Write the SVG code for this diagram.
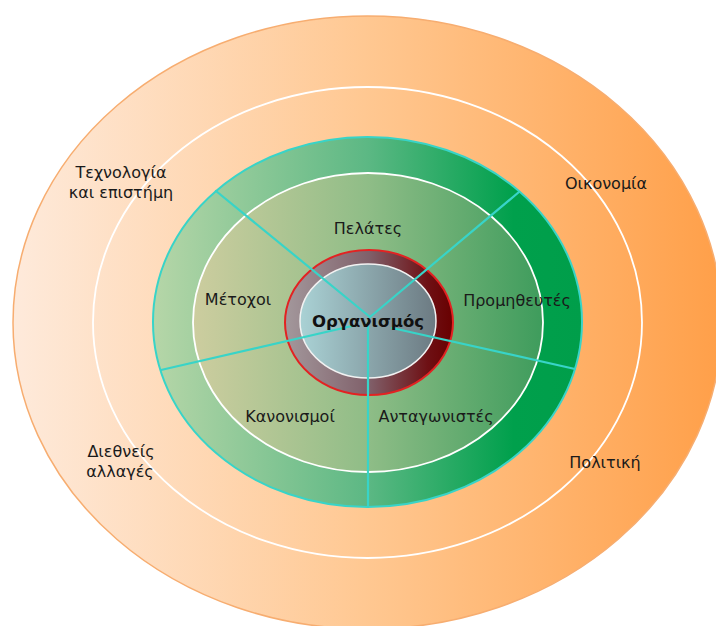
<svg xmlns="http://www.w3.org/2000/svg" width="716" height="626" viewBox="0 0 716 626">
<defs>
<style>
.t{font-family:"DejaVu Sans","Liberation Sans",Arial,sans-serif;font-size:16px;fill:#1a1a1a;text-anchor:middle}
.b{font-weight:bold;font-size:16.5px;fill:#111}
.ring{fill:none;stroke:#ffffff;stroke-width:1.8}
.spoke{stroke:#38d4c8;stroke-width:2.2;fill:none;stroke-linecap:round}
</style>
<linearGradient id="gOrange" gradientUnits="userSpaceOnUse" x1="13" y1="0" x2="716" y2="0">
<stop offset="0" stop-color="#feeadb"/>
<stop offset="0.5" stop-color="#ffc892"/>
<stop offset="1" stop-color="#ffa04a"/>
</linearGradient>
<linearGradient id="gGreen" gradientUnits="userSpaceOnUse" x1="153" y1="0" x2="582" y2="0">
<stop offset="0" stop-color="#b6d6a8"/>
<stop offset="0.5" stop-color="#5cb884"/>
<stop offset="0.84" stop-color="#00a04c"/>
<stop offset="1" stop-color="#009e4a"/>
</linearGradient>
<linearGradient id="gInner" gradientUnits="userSpaceOnUse" x1="193" y1="0" x2="543" y2="0">
<stop offset="0" stop-color="#cdcd9f"/>
<stop offset="0.5" stop-color="#8fbd87"/>
<stop offset="1" stop-color="#3e9c5c"/>
</linearGradient>
<linearGradient id="gRed" gradientUnits="userSpaceOnUse" x1="285" y1="0" x2="453" y2="0">
<stop offset="0" stop-color="#a3989c"/>
<stop offset="0.5" stop-color="#80606a"/>
<stop offset="0.85" stop-color="#6e1014"/>
<stop offset="1" stop-color="#680000"/>
</linearGradient>
<linearGradient id="gCore" gradientUnits="userSpaceOnUse" x1="300" y1="0" x2="436" y2="0">
<stop offset="0" stop-color="#aad2d5"/>
<stop offset="1" stop-color="#6c7a82"/>
</linearGradient>
</defs>
<rect width="716" height="626" fill="#ffffff"/>
<g id="environment">
<ellipse cx="367.5" cy="322.5" rx="354.5" ry="306.5" fill="url(#gOrange)" stroke="#f7ad70" stroke-width="1.5"/>
<ellipse class="ring" cx="367.5" cy="322.5" rx="274.5" ry="235.5"/>
</g>
<g id="stakeholders">
<ellipse cx="367.5" cy="322" rx="214.5" ry="185" fill="url(#gGreen)"/>
<ellipse cx="368" cy="322.5" rx="175" ry="149.5" fill="url(#gInner)" stroke="#ffffff" stroke-width="1.8"/>
</g>
<g id="organisation">
<ellipse cx="369" cy="322.5" rx="84" ry="72.5" fill="url(#gRed)" stroke="#e32222" stroke-width="2"/>
<ellipse cx="368" cy="321" rx="68" ry="57" fill="url(#gCore)" stroke="#f2f2f2" stroke-width="1.5"/>
</g>
<g id="connectors">
<line class="spoke" x1="216" y1="191" x2="370" y2="317"/>
<line class="spoke" x1="519" y1="192" x2="370" y2="317"/>
<line class="spoke" x1="161" y1="370" x2="352" y2="326"/>
<line class="spoke" x1="575" y1="369" x2="392" y2="328"/>
<line class="spoke" x1="368" y1="323" x2="368" y2="507"/>
</g>
<ellipse id="stakeholders-rim" cx="367.5" cy="322" rx="214.5" ry="185" fill="none" stroke="#38d4c8" stroke-width="2"/>
<g id="organisation-label"><text class="t b" x="368" y="327">Οργανισμός</text></g>
<g id="label-technology"><text class="t" x="121" y="178">Τεχνολογία</text><text class="t" x="121" y="198">και επιστήμη</text></g>
<g id="label-economy"><text class="t" x="606" y="189">Οικονομία</text></g>
<g id="label-international"><text class="t" x="121" y="457">Διεθνείς</text><text class="t" x="120" y="477">αλλαγές</text></g>
<g id="label-politics"><text class="t" x="605" y="468">Πολιτική</text></g>
<g id="label-customers"><text class="t" x="368" y="234">Πελάτες</text></g>
<g id="label-shareholders"><text class="t" x="238" y="305">Μέτοχοι</text></g>
<g id="label-suppliers"><text class="t" x="517" y="306">Προμηθευτές</text></g>
<g id="label-regulations"><text class="t" x="290" y="422">Κανονισμοί</text></g>
<g id="label-competitors"><text class="t" x="436" y="422">Ανταγωνιστές</text></g>
</svg>
